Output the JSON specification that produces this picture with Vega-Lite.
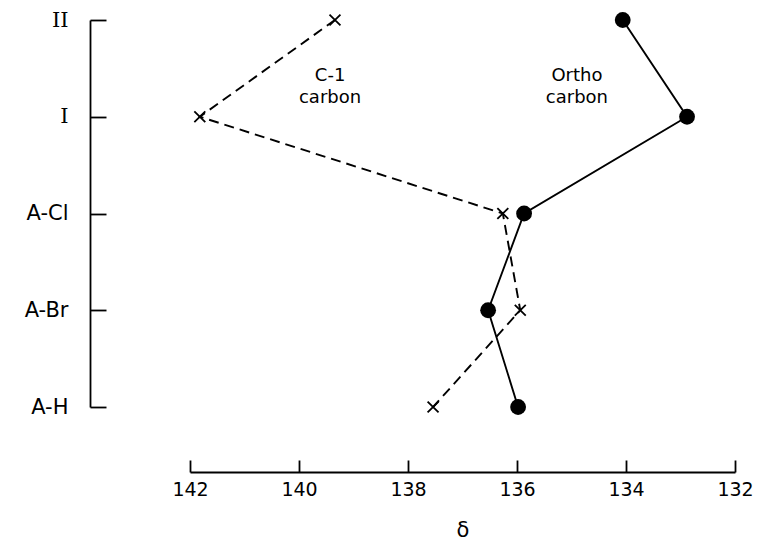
{
  "$schema": "https://vega.github.io/schema/vega-lite/v6.json",
  "autosize": "none",
  "padding": {"left": 190, "top": 20, "right": 22, "bottom": 137},
  "width": 545,
  "height": 387,
  "background": "white",
  "config": {
    "view": {"stroke": null},
    "font": "DejaVu Sans",
    "axis": {"grid": false, "domainColor": "black", "tickColor": "black", "labelColor": "black", "titleColor": "black", "domainWidth": 1.8, "tickWidth": 1.8}
  },
  "datasets": {
    "points": [
      {"series": "C-1 carbon", "compound": "II", "delta": 139.34},
      {"series": "C-1 carbon", "compound": "I", "delta": 141.82},
      {"series": "C-1 carbon", "compound": "A-Cl", "delta": 136.26},
      {"series": "C-1 carbon", "compound": "A-Br", "delta": 135.94},
      {"series": "C-1 carbon", "compound": "A-H", "delta": 137.54},
      {"series": "Ortho carbon", "compound": "II", "delta": 134.06},
      {"series": "Ortho carbon", "compound": "I", "delta": 132.88},
      {"series": "Ortho carbon", "compound": "A-Cl", "delta": 135.87},
      {"series": "Ortho carbon", "compound": "A-Br", "delta": 136.53},
      {"series": "Ortho carbon", "compound": "A-H", "delta": 135.98}
    ],
    "labels": [
      {"text": ["C-1", "carbon"], "compound": "I", "delta": 139.43},
      {"text": ["Ortho", "carbon"], "compound": "I", "delta": 134.9}
    ]
  },
  "encoding": {
    "x": {
      "field": "delta", "type": "quantitative",
      "scale": {"domain": [142, 132], "nice": false, "zero": false},
      "axis": {"values": [142, 140, 138, 136, 134, 132], "offset": 65, "tickSize": -12, "labelPadding": 20, "labelFontSize": 19, "title": "δ", "titleFontSize": 21, "titleFontWeight": "normal", "titlePadding": 20, "labelFlush": false}
    },
    "y": {
      "field": "compound", "type": "ordinal",
      "sort": ["II", "I", "A-Cl", "A-Br", "A-H"],
      "scale": {"type": "point", "padding": 0},
      "axis": {"offset": 100, "tickSize": -16, "labelPadding": 38, "labelFontSize": 21, "title": null,
        "labelFont": {"condition": {"test": "datum.value == 'II' || datum.value == 'I'", "value": "DejaVu Serif"}, "value": "DejaVu Sans"}}
    }
  },
  "layer": [
    {
      "data": {"name": "points"},
      "transform": [{"filter": "datum.series == 'C-1 carbon'"}],
      "mark": {"type": "line", "color": "black", "strokeWidth": 1.9, "strokeDash": [10, 6]},
      "encoding": {"order": {"value": null}}
    },
    {
      "data": {"name": "points"},
      "transform": [{"filter": "datum.series == 'Ortho carbon'"}],
      "mark": {"type": "line", "color": "black", "strokeWidth": 1.9},
      "encoding": {"order": {"value": null}}
    },
    {
      "data": {"name": "points"},
      "transform": [{"filter": "datum.series == 'C-1 carbon'"}],
      "mark": {"type": "point", "shape": "M-1,-1L1,1M-1,1L1,-1", "filled": false, "color": "black", "strokeWidth": 1.8, "size": 120, "opacity": 1}
    },
    {
      "data": {"name": "points"},
      "transform": [{"filter": "datum.series == 'Ortho carbon'"}],
      "mark": {"type": "point", "shape": "circle", "filled": true, "color": "black", "size": 250, "opacity": 1}
    },
    {
      "data": {"name": "labels"},
      "mark": {"type": "text", "fontSize": 18, "baseline": "bottom", "dy": -32, "lineHeight": 22, "color": "black"},
      "encoding": {"text": {"field": "text"}}
    }
  ]
}
